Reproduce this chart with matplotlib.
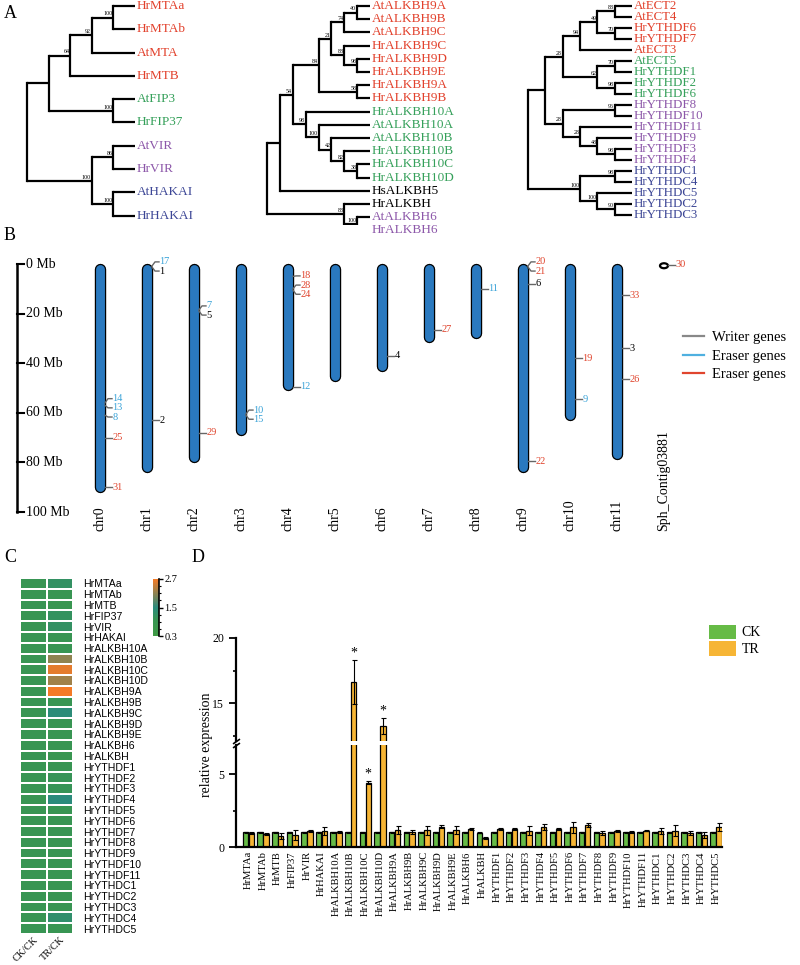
import numpy as np
import matplotlib
matplotlib.use("Agg")
import matplotlib.pyplot as plt
import matplotlib.patheffects as pe
from matplotlib.colors import LinearSegmentedColormap
from matplotlib.patches import Patch, Ellipse
from matplotlib.lines import Line2D

plt.rcParams['font.family'] = 'serif'
plt.rcParams['font.serif'] = ['Liberation Serif', 'DejaVu Serif']

# ---------------- data ----------------
# A: trees as (bootstrap, child, child); leaves are names
tree1 = (None,
         (None,
          (64, (92, (100, 'HrMTAa', 'HrMTAb'), 'AtMTA'), 'HrMTB'),
          (100, 'AtFIP3', 'HrFIP37')),
         (100, (86, 'AtVIR', 'HrVIR'), (100, 'AtHAKAI', 'HrHAKAI')))
tree1_groups = [4, 2, 2, 2]

tree2 = (None,
         (None,
          (54,
           (84,
            (21, (74, (40, 'AtALKBH9A', 'AtALKBH9B'), 'AtALKBH9C'),
             (88, 'HrALKBH9C', (98, 'HrALKBH9D', 'HrALKBH9E'))),
            (58, 'HrALKBH9A', 'HrALKBH9B')),
           (98, 'HrALKBH10A',
            (100, 'AtALKBH10A',
             (42, 'AtALKBH10B',
              (82, 'HrALKBH10B', (38, 'HrALKBH10C', 'HrALKBH10D')))))),
          'HsALKBH5'),
         (88, 'HrALKBH', (100, 'AtALKBH6', 'HrALKBH6')))
tree2_groups = [8, 6, 2, 2]

tree3 = (None,
         (None,
          (28,
           (94, (49, (88, 'AtECT2', 'AtECT4'), (70, 'HrYTHDF6', 'HrYTHDF7')), 'AtECT3'),
           (62, (70, 'AtECT5', 'HrYTHDF1'), (98, 'HrYTHDF2', 'HrYTHDF6'))),
          (28, (96, 'HrYTHDF8', 'HrYTHDF10'),
           (28, 'HrYTHDF11', (48, 'HrYTHDF9', (98, 'HrYTHDF3', 'HrYTHDF4'))))),
         (100, (98, 'HrYTHDC1', 'HrYTHDC4'),
          (100, 'HrYTHDC5', (90, 'HrYTHDC2', 'HrYTHDC3'))))
tree3_groups = [5, 4, 6, 5]

# B: chromosomes (Mb) and gene loci
chr_names = ['chr0', 'chr1', 'chr2', 'chr3', 'chr4', 'chr5', 'chr6', 'chr7',
             'chr8', 'chr9', 'chr10', 'chr11', 'Sph_Contig03881']
chr_lengths = [92, 84, 80, 69, 51, 47.5, 43.5, 31.5, 30, 84, 63, 79, 0.8]
gene_ids = [14, 13, 8, 25, 31, 17, 1, 2, 7, 5, 29, 10, 15, 18, 28, 24, 12,
            4, 27, 11, 20, 21, 6, 22, 19, 9, 33, 3, 26, 30]
gene_chr = [0, 0, 0, 0, 0, 1, 1, 1, 2, 2, 2, 3, 3, 4, 4, 4, 4,
            6, 7, 8, 9, 9, 9, 9, 10, 10, 11, 11, 11, 12]
gene_pos = [56, 57, 61, 70, 90, 0.8, 1.2, 63, 18.5, 19, 68, 60.5, 61, 5, 10, 10.5, 49.5,
            37, 26.5, 10, 0.8, 1.2, 8, 79.5, 38, 54.5, 12.5, 34, 46.5, 0.3]
# 0 writer, 1 eraser, 2 eraser (red)
gene_type = [1, 1, 1, 2, 2, 1, 0, 0, 1, 0, 2, 1, 1, 2, 2, 2, 1,
             0, 2, 1, 2, 2, 0, 2, 2, 1, 2, 0, 2, 2]
scale_ticks = [0, 20, 40, 60, 80, 100]
legend_b = ['Writer genes', 'Eraser genes', 'Eraser genes']

# C / D: expression
genes = ['HrMTAa', 'HrMTAb', 'HrMTB', 'HrFIP37', 'HrVIR', 'HrHAKAI',
         'HrALKBH10A', 'HrALKBH10B', 'HrALKBH10C', 'HrALKBH10D',
         'HrALKBH9A', 'HrALKBH9B', 'HrALKBH9C', 'HrALKBH9D', 'HrALKBH9E',
         'HrALKBH6', 'HrALKBH', 'HrYTHDF1', 'HrYTHDF2', 'HrYTHDF3', 'HrYTHDF4',
         'HrYTHDF5', 'HrYTHDF6', 'HrYTHDF7', 'HrYTHDF8', 'HrYTHDF9', 'HrYTHDF10',
         'HrYTHDF11', 'HrYTHDC1', 'HrYTHDC2', 'HrYTHDC3', 'HrYTHDC4', 'HrYTHDC5']
heat_ck = [1.0] * 33
heat_tr = [1.2, 1.0, 0.9, 1.15, 1.2, 1.0, 1.0, 2.1, 2.6, 2.2, 2.7, 1.0, 1.45,
           1.0, 1.0, 1.0, 0.9, 1.0, 1.05, 1.05, 1.5, 1.0, 1.0, 1.0, 0.95, 1.0,
           1.0, 1.0, 1.0, 1.0, 1.0, 1.3, 1.0]
heat_cols = ['CK/CK', 'TR/CK']

ck_val = [1.0, 1.0, 1.0, 1.0, 1.0, 1.0, 1.0, 1.0, 1.0, 1.0, 1.0, 1.0, 1.0, 1.0,
          1.0, 1.0, 0.98, 1.0, 1.0, 1.0, 1.0, 1.0, 1.0, 1.0, 1.0, 1.0, 1.0, 1.0,
          1.0, 1.0, 1.0, 1.0, 1.0]
ck_err = [0.05] * 33
tr_val = [0.95, 0.88, 0.73, 0.85, 1.1, 1.1, 1.03, 16.6, 4.4, 13.25, 1.18, 1.02,
          1.14, 1.4, 1.18, 1.23, 0.62, 1.22, 1.23, 1.13, 1.37, 1.22, 1.35, 1.52,
          0.95, 1.1, 1.02, 1.12, 1.1, 1.13, 0.95, 0.8, 1.37]
tr_err = [0.05, 0.05, 0.2, 0.35, 0.1, 0.3, 0.05, 1.7, 0.1, 0.6, 0.27, 0.15,
          0.3, 0.08, 0.28, 0.08, 0.07, 0.06, 0.06, 0.3, 0.2, 0.06, 0.4, 0.15,
          0.15, 0.05, 0.05, 0.05, 0.22, 0.38, 0.15, 0.2, 0.28]
sig_genes = ['HrALKBH10B', 'HrALKBH10C', 'HrALKBH10D']

# ---------------- layout helpers ----------------
W, H = 800, 965
fig = plt.figure(figsize=(W / 100, H / 100), dpi=100)


def px_axes(x0, y0, x1, y1):
    return fig.add_axes([x0 / W, 1 - y1 / H, (x1 - x0) / W, (y1 - y0) / H])


RED, GREEN, PURPLE, BLUE = '#e2412c', '#35a05a', '#8c57a9', '#3d4796'


def height(node):
    if isinstance(node, str):
        return 0
    return 1 + max(height(c) for c in node[1:])


def draw_tree(ax, tree, x_root, x_leaf, y_top, y_step, colors, fs):
    Ht = height(tree)
    step = (x_leaf - x_root) / Ht
    leaves = []

    def walk(node):
        if isinstance(node, str):
            y = y_top + len(leaves) * y_step
            ax.text(x_leaf + 1.5, y, node, color=colors[len(leaves)],
                    fontsize=fs, va='center', ha='left')
            leaves.append(node)
            return x_leaf, y
        x = x_root + (Ht - height(node)) * step
        pts = [walk(c) for c in node[1:]]
        ys = [p[1] for p in pts]
        ax.plot([x, x], [min(ys), max(ys)], color='k', lw=1.6,
                solid_capstyle='projecting')
        for cx, cy in pts:
            ax.plot([x, cx], [cy, cy], color='k', lw=1.6, solid_capstyle='butt')
        y = (min(ys) + max(ys)) / 2
        if node[0] is not None:
            ax.text(x - 0.8, y - 1.2, str(node[0]), fontsize=4.3,
                    ha='right', va='bottom')
        return x, y

    walk(tree)


def group_colors(counts, cols):
    out = []
    for n, c in zip(counts, cols):
        out += [c] * n
    return out


# ---------------- A ----------------
axA = px_axes(0, 0, 800, 225)
axA.set_xlim(0, 800)
axA.set_ylim(225, 0)
axA.axis('off')
draw_tree(axA, tree1, 27, 135, 6, 23.3,
          group_colors(tree1_groups, [RED, GREEN, PURPLE, BLUE]), 9.5)
draw_tree(axA, tree2, 267, 370, 6, 13.2,
          group_colors(tree2_groups, [RED, GREEN, 'black', PURPLE]), 9.5)
draw_tree(axA, tree3, 528, 632, 6, 11.0,
          group_colors(tree3_groups, [RED, GREEN, PURPLE, BLUE]), 9.3)

# ---------------- B ----------------
top_px, mb_px = 264, 2.48
axB = px_axes(0, 240, 800, 540)
axB.set_xlim(0, 800)
axB.set_ylim((540 - top_px) / mb_px, (240 - top_px) / mb_px)
axB.axis('off')

# scale bar
axB.plot([17, 17], [scale_ticks[0], scale_ticks[-1]], color='k', lw=1.8,
         solid_capstyle='projecting')
for v in scale_ticks:
    axB.plot([17, 24], [v, v], color='k', lw=1.5)
    axB.text(26, v, f'{v} Mb', fontsize=10, va='center', ha='left')

chr_x0, chr_dx = 100, 47
chr_color = '#2a79bf'
type_text = ['black', '#3aa3d8', '#e0452e']
cap = 2.2
for i, (name, L) in enumerate(zip(chr_names, chr_lengths)):
    x = chr_x0 + i * chr_dx
    if L > 2 * cap:
        axB.plot([x, x], [cap, L - cap], color=chr_color, lw=6.4,
                 solid_capstyle='round',
                 path_effects=[pe.Stroke(linewidth=8.2, foreground='black'),
                               pe.Normal()])
    else:
        axB.add_patch(Ellipse((x, L / 2 + 0.3), 8, 2.0, facecolor='white',
                              edgecolor='black', lw=1.6))
    fig.text(x / W, 1 - 531 / H, name, rotation=90, ha='center', va='bottom',
             fontsize=10)

# gene labels, spread apart where crowded
gap = 3.7
for c in range(len(chr_names)):
    idx = [k for k in range(len(gene_ids)) if gene_chr[k] == c]
    idx.sort(key=lambda k: gene_pos[k])
    groups = [[k] for k in idx]
    changed = True
    while changed:
        changed = False
        labs = []
        for g in groups:
            m = np.mean([gene_pos[k] for k in g])
            labs.append(m + (np.arange(len(g)) - (len(g) - 1) / 2) * gap)
        for j in range(len(groups) - 1):
            if labs[j + 1][0] - labs[j][-1] < gap:
                groups[j] = groups[j] + groups[j + 1]
                del groups[j + 1]
                changed = True
                break
    x = chr_x0 + c * chr_dx
    xe = x + (5 if chr_lengths[c] > 2 * cap else 4)
    for g, lab in zip(groups, labs):
        for k, ly in zip(g, lab):
            axB.plot([xe, xe + 3, xe + 7], [gene_pos[k], ly, ly],
                     color='#666666', lw=1.0)
            axB.text(xe + 7.5, ly, str(gene_ids[k]), fontsize=7.5,
                     color=type_text[gene_type[k]], va='center', ha='left')

axB.legend(handles=[Line2D([], [], color=c, lw=1.6)
                    for c in ['#888888', '#4fb0e0', '#e0452e']],
           labels=legend_b, loc='upper left', frameon=False, fontsize=10.5,
           handlelength=1.4, handletextpad=0.6, labelspacing=0.35,
           bbox_to_anchor=(670 / W, 1 - 318 / H), bbox_transform=fig.transFigure)

# ---------------- C ----------------
cmap = LinearSegmentedColormap.from_list(
    'gto', [(0.0, '#3f9a45'), (0.29, '#389553'), (0.5, '#2b8b7c'), (1.0, '#f47a26')])
axC = px_axes(20, 578, 73, 934)
heat = np.array([heat_ck, heat_tr]).T
mesh = axC.pcolormesh(heat, cmap=cmap, vmin=0.3, vmax=2.7,
                      edgecolors='white', linewidth=1.2)
axC.set_ylim(len(genes), 0)
axC.set_xlim(0, 2)
for s in axC.spines.values():
    s.set_visible(False)
axC.yaxis.tick_right()
axC.set_yticks(np.arange(len(genes)) + 0.5)
axC.set_yticklabels(genes, fontsize=7.6, family='Liberation Sans')
axC.set_xticks([0.5, 1.5])
axC.set_xticklabels(heat_cols, rotation=45, ha='right', rotation_mode='anchor',
                    fontsize=7.3)
axC.tick_params(axis='x', length=0, pad=1)
axC.tick_params(axis='y', length=0, pad=7)

cax = px_axes(153, 579, 159, 636)
cb = fig.colorbar(mesh, cax=cax, ticks=[0.3, 1.5, 2.7])
cb.outline.set_visible(False)
cax.plot([1, 1], [0, 1], transform=cax.transAxes, color='k', lw=1.2,
         clip_on=False)
cax.set_yticks([0.6, 0.9, 1.2, 1.8, 2.1, 2.4], minor=True)
cax.tick_params(which='major', length=3, width=1, labelsize=7.5, pad=1)
cax.tick_params(which='minor', length=1.5, width=0.8)

# ---------------- D ----------------
ix = np.arange(len(genes))
ck_col, tr_col = '#66bb46', '#f6b535'
ax_lo = px_axes(236, 745, 722, 847)
ax_hi = px_axes(236, 638, 722, 741)
for ax in (ax_lo, ax_hi):
    ax.bar(ix - 0.2, ck_val, 0.38, yerr=ck_err, color=ck_col, edgecolor='k',
           lw=0.9, error_kw=dict(lw=0.8, capsize=1.8, capthick=0.8))
    ax.bar(ix + 0.2, tr_val, 0.38, yerr=tr_err, color=tr_col, edgecolor='k',
           lw=0.9, error_kw=dict(lw=0.8, capsize=1.8, capthick=0.8))
    ax.set_xlim(-0.85, len(genes) - 0.6)
    ax.spines['top'].set_visible(False)
    ax.spines['right'].set_visible(False)
    ax.spines['left'].set_linewidth(1.6)
    ax.tick_params(axis='y', which='major', length=5, width=1.3, labelsize=8.5)
    ax.tick_params(axis='y', which='minor', length=2.5, width=1.2)
ax_lo.set_ylim(0, 7)
ax_lo.set_yticks([0, 5])
ax_lo.set_yticks([2.5], minor=True)
ax_lo.spines['bottom'].set_linewidth(1.6)
ax_lo.set_xticks(ix)
ax_lo.set_xticklabels(genes, rotation=90, fontsize=7.6)
ax_lo.tick_params(axis='x', length=0, pad=3)
ax_hi.set_ylim(12.1, 20)
ax_hi.set_yticks([15, 20])
ax_hi.set_yticks([12.5, 17.5], minor=True)
ax_hi.spines['bottom'].set_visible(False)
ax_hi.set_xticks([])

for g in sig_genes:
    i = genes.index(g)
    top = tr_val[i] + tr_err[i]
    ax = ax_hi if top > 7 else ax_lo
    ax.text(i + 0.2, top + 0.05, '*', ha='center', va='bottom', fontsize=10)

brk = [(-1.0, -0.7), (1.0, 0.7)]
for ax, yy in ((ax_lo, 1.0), (ax_hi, 0.0)):
    ax.plot([0], [yy], transform=ax.transAxes, marker=brk, markersize=5,
            color='k', mew=1.2, clip_on=False)

fig.text(207 / W, 1 - 745 / H, 'relative expression', rotation=90,
         ha='center', va='center', fontsize=10)
fig.legend(handles=[Patch(facecolor=ck_col), Patch(facecolor=tr_col)],
           labels=['CK', 'TR'], loc='upper left', frameon=False, fontsize=10,
           handlelength=2.0, handleheight=1.2, handletextpad=0.4,
           labelspacing=0.15, bbox_to_anchor=(696 / W, 1 - 612 / H))

# panel letters
for lab, x, y in (('A', 4, 14), ('B', 4, 236), ('C', 4, 557), ('D', 192, 557)):
    fig.text(x / W, 1 - y / H, lab, fontsize=13, ha='left', va='center')

fig.savefig('out.png', dpi=100)
